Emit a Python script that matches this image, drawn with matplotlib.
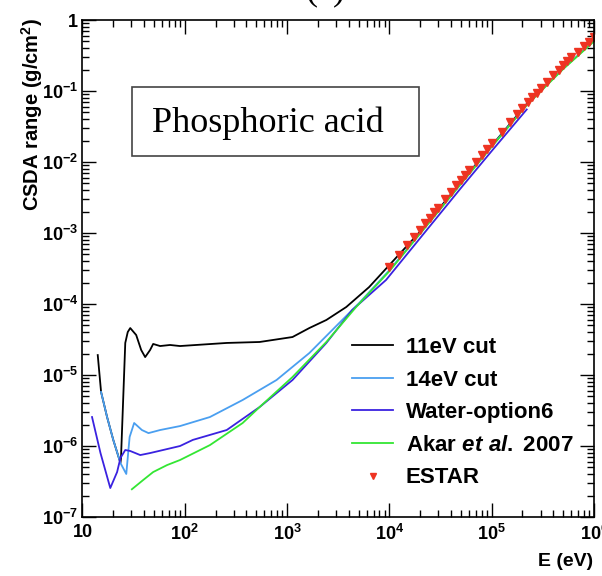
import numpy as np
import matplotlib
matplotlib.use("Agg")
import matplotlib.pyplot as plt
from matplotlib.ticker import LogLocator, FuncFormatter, NullFormatter
from matplotlib.patches import Rectangle

# CSDA range (g/cm2) vs electron energy (eV)
black_e = [14.1, 15.2, 17.4, 20.0, 23.5, 23.8, 26.2, 27.7, 29.3, 33.5, 37.5, 41.0, 45.8,
           49.1, 57.4, 71.8, 89.8, 257, 539, 1130, 1650, 2420, 3790, 6330, 9920,
           2.0e4, 5.0e4, 1.0e5, 2.2e5]
black_r = [1.91e-5, 5.77e-6, 2.56e-6, 1.22e-6, 5.77e-7, 6.77e-7, 2.83e-5, 4.03e-5, 4.59e-5,
           3.66e-5, 2.25e-5, 1.79e-5, 2.25e-5, 2.74e-5, 2.56e-5, 2.65e-5, 2.56e-5,
           2.83e-5, 2.92e-5, 3.43e-5, 4.59e-5, 5.96e-5, 9.08e-5, 1.73e-4, 3.5e-4,
           1.05e-3, 5.2e-3, 1.7e-2, 6.6e-2]

cut14_e = [15.2, 17.4, 20.0, 23.5, 26.8, 28.9, 32.0, 38.1, 44.2, 57.4, 89.8, 176, 368,
           789, 1650, 3460, 5060, 1.0e4, 2.0e4, 5.0e4, 1.0e5, 2.2e5, 5.0e5, 1.0e6]
cut14_r = [5.77e-6, 2.56e-6, 1.22e-6, 5.77e-7, 4.04e-7, 1.34e-6, 2.11e-6, 1.68e-6,
           1.52e-6, 1.68e-6, 1.91e-6, 2.56e-6, 4.45e-6, 8.51e-6, 2.04e-5, 5.96e-5,
           1.03e-4, 3.0e-4, 1.0e-3, 5.0e-3, 1.67e-2, 6.4e-2, 2.07e-1, 5.1e-1]

opt6_e = [12.4, 15.0, 18.7, 21.8, 23.5, 26.2, 29.3, 36.7, 45.8, 61.4, 89.8, 120, 257,
          539, 1130, 2420, 4325, 9270, 2.0e4, 5.0e4, 1.0e5, 2.2e5]
opt6_r = [2.56e-6, 7.96e-7, 2.56e-7, 4.30e-7, 6.77e-7, 8.79e-7, 8.51e-7, 7.46e-7,
          7.96e-7, 8.79e-7, 1.00e-6, 1.22e-6, 1.68e-6, 3.54e-6, 8.51e-6, 2.83e-5,
          8.22e-5, 2.18e-4, 8.5e-4, 4.3e-3, 1.43e-2, 5.5e-2]

akar_e = [30.4, 39.2, 49.1, 67.1, 89.8, 176, 368, 539, 1130, 2420, 4730, 1.0e4, 2.0e4,
          5.0e4, 1.0e5, 2.2e5, 5.0e5, 1.0e6]
akar_r = [2.46e-7, 3.32e-7, 4.30e-7, 5.39e-7, 6.35e-7, 1.03e-6, 2.11e-6, 3.54e-6,
          9.38e-6, 2.92e-5, 9.08e-5, 2.9e-4, 9.8e-4, 4.9e-3, 1.64e-2, 6.3e-2, 2.04e-1, 5.0e-1]

estar_e = [1.0e4, 1.25e4, 1.5e4, 1.75e4, 2.0e4, 2.25e4, 2.5e4, 2.75e4, 3.0e4, 3.5e4,
           4.0e4, 4.5e4, 5.0e4, 5.5e4, 6.0e4, 7.0e4, 8.0e4, 9.0e4, 1.0e5, 1.25e5,
           1.5e5, 1.75e5, 2.0e5, 2.25e5, 2.5e5, 2.75e5, 3.0e5, 3.5e5, 4.0e5, 4.5e5,
           5.0e5, 5.5e5, 6.0e5, 7.0e5, 8.0e5, 9.0e5, 1.0e6]
estar_r = [3.27e-4, 4.85e-4, 6.69e-4, 8.79e-4, 1.11e-3, 1.37e-3, 1.65e-3, 1.96e-3,
           2.28e-3, 3.00e-3, 3.80e-3, 4.68e-3, 5.62e-3, 6.63e-3, 7.70e-3, 1.00e-2,
           1.26e-2, 1.54e-2, 1.86e-2, 2.65e-2, 3.67e-2, 4.68e-2, 5.83e-2, 7.03e-2,
           8.25e-2, 9.51e-2, 1.09e-1, 1.35e-1, 1.67e-1, 1.95e-1, 2.30e-1, 2.61e-1,
           2.97e-1, 3.56e-1, 4.27e-1, 4.91e-1, 5.68e-1]

plt.rcParams.update({
    "font.family": "Liberation Sans",
    "font.weight": "bold",
    "mathtext.fontset": "custom",
    "mathtext.rm": "Liberation Sans:bold",
    "mathtext.bf": "Liberation Sans:bold",
    "mathtext.it": "Liberation Sans:italic:bold",
    "mathtext.default": "rm",
})

fig = plt.figure(figsize=(6.02, 5.76), dpi=100)
ax = fig.add_axes([0.137, 0.1024, 0.8497, 0.8628])

lw = 1.3
ax.plot(black_e, black_r, color="black", lw=lw, label="11eV cut")
ax.plot(cut14_e, cut14_r, color="#4a9ff0", lw=lw, label="14eV cut")
ax.plot(opt6_e, opt6_r, color="#3a22e0", lw=lw, label="Water-option6")
ax.plot(akar_e, akar_r, color="#33e633", lw=lw, label=r"Akar $\mathit{et\ al.}$ 2007")
ax.plot(estar_e, estar_r, ls="none", marker="v", ms=6, color="#ee3322",
        mec="#ee3322", label="ESTAR")

ax.set_xscale("log")
ax.set_yscale("log")
ax.set_xlim(10, 1e6)
ax.set_ylim(1e-7, 1)


def exp_label(v, pos):
    n = int(round(np.log10(v)))
    if n == 0:
        return "1"
    if n == 1:
        return "10"
    return r"$10^{%d}$" % n


for axis in (ax.xaxis, ax.yaxis):
    axis.set_major_locator(LogLocator(base=10, numticks=20))
    axis.set_minor_locator(LogLocator(base=10, subs=np.arange(2, 10), numticks=20))
    axis.set_major_formatter(FuncFormatter(exp_label))
    axis.set_minor_formatter(NullFormatter())

ax.tick_params(which="both", direction="in", top=True, right=True, labelsize=13, width=1)
ax.tick_params(which="major", length=10)
ax.tick_params(which="minor", length=5)
ax.tick_params(axis="x", pad=5)
ax.tick_params(axis="y", pad=3)
for s in ax.spines.values():
    s.set_linewidth(1.2)

# material label box
ax.add_patch(Rectangle((0.0968, 0.726), 0.561, 0.139, transform=ax.transAxes,
                       facecolor="white", edgecolor="#444444", lw=1.2, zorder=3))
ax.text(0.136, 0.775, "Phosphoric acid", transform=ax.transAxes,
        family="Liberation Serif", weight="normal", fontsize=26, va="baseline", zorder=4)

ax.legend(loc="upper left", bbox_to_anchor=(0.527, 0.362), frameon=False, fontsize=16,
          handlelength=1.86, handletextpad=0.55, labelspacing=0.52, borderpad=0,
          borderaxespad=0, markerscale=0.75)

fig.text(32.5 / 602, 1 - 18 / 576, r"CSDA range (g/cm$^{2}$)", rotation=90,
         ha="center", va="top", fontsize=14.5)
fig.text(593 / 602, 1 - 561 / 576, "E (eV)", ha="right", va="center", fontsize=14)
fig.text(325 / 602, 1 + 1 / 576, "(c)", family="Liberation Serif", weight="normal",
         fontsize=26, ha="center", va="baseline")

fig.savefig("out.png", dpi=100)
